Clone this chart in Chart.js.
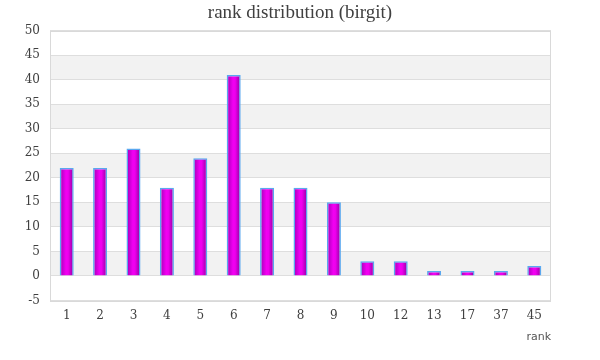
<!DOCTYPE html>
<html><head><meta charset="utf-8">
<script src="https://cdn.jsdelivr.net/npm/chart.js@4"></script>
<style>html,body{margin:0;padding:0;background:#fff}#wrap{width:600px;height:360px}</style>
</head><body><div id="wrap"><canvas id="c" width="600" height="360"></canvas></div>
<script>
const categories = ['1','2','3','4','5','6','7','8','9','10','12','13','17','37','45'];
const counts = [22, 22, 26, 18, 24, 41, 18, 18, 15, 3, 3, 1, 1, 1, 2];
const yMin = -5, yMax = 50, yStep = 5;

const serif = '"Liberation Serif", "DejaVu Serif", serif';
const tickFont = '"DejaVu Serif", serif';

const stylePlugin = {
  id: 'bands',
  beforeDraw(chart) {
    const {ctx, chartArea: a, scales: {y}} = chart;
    ctx.save();
    for (let v = yMin; v < yMax; v += yStep) {
      if (((v / yStep) % 2 + 2) % 2 === 0 && v >= 0) {
        const t = y.getPixelForValue(v + yStep), b = y.getPixelForValue(v);
        ctx.fillStyle = '#f2f2f2';
        ctx.fillRect(a.left, t, a.right - a.left, b - t);
      }
    }
    ctx.restore();
  },
  beforeDatasetsDraw(chart) {
    const ctx = chart.ctx;
    chart.getDatasetMeta(0).data.forEach(el => {
      const w = el.width, cx = el.x;
      if (!isFinite(w) || !isFinite(cx)) return;
      const g = ctx.createLinearGradient(cx - w / 2, 0, cx + w / 2, 0);
      g.addColorStop(0, '#a000b4');
      g.addColorStop(0.45, '#f200f2');
      g.addColorStop(0.6, '#ee00ee');
      g.addColorStop(1, '#8c009c');
      el.options = Object.assign({}, el.options, {backgroundColor: g});
    });
  },
  afterDatasetsDraw(chart) {
    const {ctx, chartArea: a} = chart;
    ctx.save();
    ctx.strokeStyle = '#d9d9d9';
    ctx.lineWidth = 1;
    ctx.strokeRect(Math.round(a.left) + 0.5, Math.round(a.top) + 0.5,
      Math.round(a.right - a.left) - 1, Math.round(a.bottom - a.top));
    ctx.restore();
  }
};

new Chart(document.getElementById('c'), {
  type: 'bar',
  data: {
    labels: categories,
    datasets: [{
      data: counts,
      backgroundColor: () => '#e000e0',
      borderColor: '#5aa8f0',
      borderWidth: 1.5,
      barPercentage: 0.42,
      categoryPercentage: 1.0
    }]
  },
  options: {
    responsive: false,
    animation: false,
    devicePixelRatio: 1,
    layout: {padding: {left: 0, right: 0, top: 0, bottom: 16}},
    plugins: {
      legend: {display: false},
      tooltip: {enabled: false},
      title: {
        display: true,
        text: 'rank distribution (birgit)',
        color: '#404040',
        font: {family: serif, size: 19, weight: 'normal'},
        padding: {top: 2, bottom: 6}
      }
    },
    scales: {
      x: {
        grid: {display: false, drawTicks: false},
        border: {display: false},
        ticks: {color: '#404040', font: {family: tickFont, size: 12}, padding: 8, maxRotation: 0},
        title: {
          display: true, text: 'rank', align: 'end',
          color: '#555', font: {family: '"DejaVu Sans", sans-serif', size: 11},
          padding: {top: 0, bottom: 0}
        }
      },
      y: {
        min: yMin, max: yMax,
        grid: {color: '#dedede', drawTicks: false},
        border: {display: false},
        ticks: {stepSize: yStep, color: '#404040', font: {family: tickFont, size: 12}, padding: 10},
        afterFit(s) { s.width = 50; }
      },
      yRight: {
        position: 'right',
        min: yMin, max: yMax,
        grid: {display: false, drawTicks: false},
        border: {display: false},
        ticks: {display: false},
        afterFit(s) { s.width = 49; }
      }
    }
  },
  plugins: [stylePlugin]
});
</script>
</body></html>
